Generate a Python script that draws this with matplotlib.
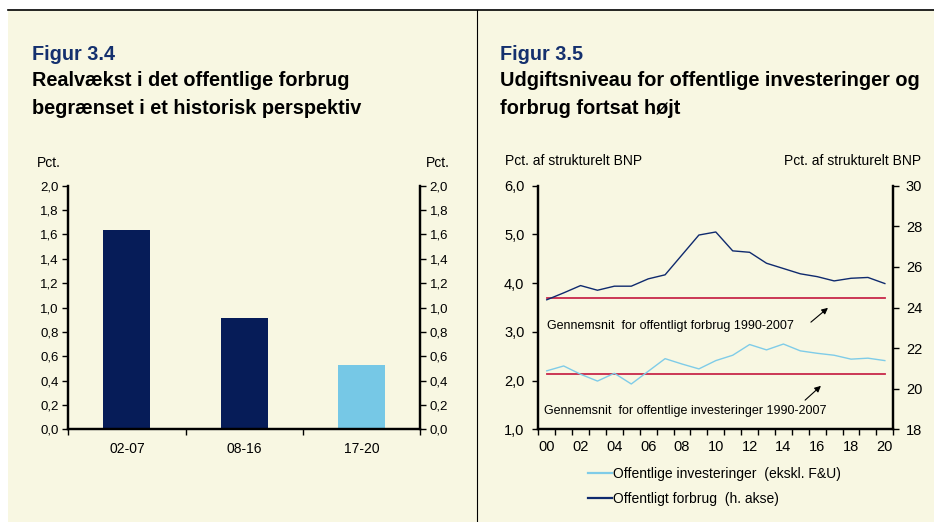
import numpy as np
import matplotlib
matplotlib.use("Agg")
import matplotlib.pyplot as plt
from matplotlib.patches import Rectangle
from matplotlib.lines import Line2D
from matplotlib.ticker import FuncFormatter, FixedLocator

plt.rcParams['font.family'] = ['Liberation Sans', 'DejaVu Sans']

# --- data, figur 3.4 ---
periods = ["02-07", "08-16", "17-20"]
growth = [1.64, 0.91, 0.53]
bar_colors = ["#061c58", "#061c58", "#76c8e6"]

# --- data, figur 3.5 ---
years = list(range(2000, 2021))
year_labels = ["00", "02", "04", "06", "08", "10", "12", "14", "16", "18", "20"]
investeringer = [2.20, 2.30, 2.13, 1.99, 2.15, 1.93, 2.19, 2.45, 2.34, 2.24, 2.41,
                 2.52, 2.74, 2.63, 2.75, 2.61, 2.56, 2.52, 2.44, 2.46, 2.41]
forbrug = [24.38, 24.72, 25.08, 24.85, 25.05, 25.05, 25.41, 25.61, 26.59, 27.57, 27.72,
           26.79, 26.72, 26.18, 25.92, 25.66, 25.52, 25.31, 25.44, 25.48, 25.18]
avg_invest = 2.14
avg_forbrug = 24.46

W, H = 934, 522
NAVY = "#0f2a6e"
LIGHT = "#7fcce8"
RED = "#c8284a"
CREAM = "#f8f7e2"

fig = plt.figure(figsize=(W / 100, H / 100), dpi=100)
fig.patch.set_facecolor("white")


def px(x, y):
    return x / W, 1 - y / H


# background and frame lines
fig.patches.append(Rectangle(px(8, 522), (W - 8) / W, 512 / H, transform=fig.transFigure,
                             facecolor=CREAM, edgecolor="none", zorder=-5))
fig.lines.append(Line2D([8 / W, 1], [1 - 10 / H] * 2, transform=fig.transFigure, color="black", lw=1.2))
fig.lines.append(Line2D([477 / W] * 2, [1 - 10 / H, 0], transform=fig.transFigure, color="black", lw=0.8))

comma1 = FuncFormatter(lambda v, p: f"{v:.1f}".replace(".", ","))
intfmt = FuncFormatter(lambda v, p: f"{v:.0f}")


def style_axis(ax):
    ax.set_facecolor("none")
    for s in ax.spines.values():
        s.set_linewidth(1.6)
    ax.spines['top'].set_visible(False)
    ax.tick_params(axis='both', direction='out', length=4, width=1, labelsize=9.5, pad=3)


TS = 14.3

# ---------------- Figur 3.4 ----------------
fig.text(32 / W, 1 - 54 / H, "Figur 3.4", color="#14306e", fontsize=TS, fontweight="bold", va="center")
fig.text(32 / W, 1 - 81 / H, "Realvækst i det offentlige forbrug", color="black", fontsize=TS,
         fontweight="bold", va="center")
fig.text(32 / W, 1 - 108 / H, "begrænset i et historisk perspektiv", color="black", fontsize=TS,
         fontweight="bold", va="center")
fig.text(37 / W, 1 - 163 / H, "Pct.", fontsize=10, va="center")
fig.text(450 / W, 1 - 163 / H, "Pct.", fontsize=10, va="center", ha="right")

ax1 = fig.add_axes([68.3 / W, 1 - 429.3 / H, 351.7 / W, 243.6 / H])
style_axis(ax1)
x = np.arange(len(periods))
ax1.bar(x, growth, width=0.4, color=bar_colors, zorder=2)
ax1.set_xlim(-0.5, 2.5)
ax1.set_ylim(0, 2.0)
ax1.set_yticks(np.arange(0, 2.01, 0.2))
ax1.yaxis.set_major_formatter(comma1)
ax1.xaxis.set_major_locator(FixedLocator([-0.5, 0.5, 1.5, 2.5]))
ax1.xaxis.set_major_formatter(FuncFormatter(lambda v, p: ""))
ax1.xaxis.set_minor_locator(FixedLocator(x))
ax1.set_xticklabels(periods, minor=True)
ax1.tick_params(axis='x', which='minor', length=0, labelsize=10, pad=9)
ax1r = ax1.twinx()
style_axis(ax1r)
ax1r.set_ylim(0, 2.0)
ax1r.set_yticks(np.arange(0, 2.01, 0.2))
ax1r.yaxis.set_major_formatter(comma1)

# ---------------- Figur 3.5 ----------------
fig.text(500 / W, 1 - 54 / H, "Figur 3.5", color="#14306e", fontsize=TS, fontweight="bold", va="center")
fig.text(500 / W, 1 - 81 / H, "Udgiftsniveau for offentlige investeringer og", color="black",
         fontsize=TS, fontweight="bold", va="center")
fig.text(500 / W, 1 - 108 / H, "forbrug fortsat højt", color="black", fontsize=TS,
         fontweight="bold", va="center")
fig.text(505 / W, 1 - 161 / H, "Pct. af strukturelt BNP", fontsize=10, va="center")
fig.text(921 / W, 1 - 161 / H, "Pct. af strukturelt BNP", fontsize=10, va="center", ha="right")

ax2 = fig.add_axes([538.3 / W, 1 - 429.3 / H, 355 / W, 243.6 / H])
style_axis(ax2)
ax2r = ax2.twinx()
style_axis(ax2r)

l1, = ax2.plot(years, investeringer, color=LIGHT, lw=1.0, zorder=3,
               label="Offentlige investeringer  (ekskl. F&U)")
ax2.plot([years[0], years[-1]], [avg_invest, avg_invest], color=RED, lw=1.3, zorder=2)
l2, = ax2r.plot(years, forbrug, color=NAVY, lw=1.0, zorder=3,
                label="Offentligt forbrug  (h. akse)")
ax2r.plot([years[0], years[-1]], [avg_forbrug, avg_forbrug], color=RED, lw=1.3, zorder=2)

ax2.set_xlim(1999.5, 2020.5)
ax2.set_ylim(1.0, 6.0)
ax2.set_yticks(np.arange(1.0, 6.01, 1.0))
ax2.yaxis.set_major_formatter(comma1)
ax2r.set_ylim(18, 30)
ax2r.set_yticks(np.arange(18, 31, 2))
ax2r.yaxis.set_major_formatter(intfmt)
ax2.xaxis.set_major_locator(FixedLocator(np.arange(1999.5, 2021, 1.0)))
ax2.xaxis.set_major_formatter(FuncFormatter(lambda v, p: ""))
ax2.xaxis.set_minor_locator(FixedLocator(years[::2]))
ax2.set_xticklabels(year_labels, minor=True)
ax2.tick_params(axis='x', which='minor', length=0, labelsize=10.5, pad=8)
ax2.tick_params(axis='y', labelsize=10.5, pad=6)
ax2r.tick_params(axis='y', labelsize=10.5, pad=5)

# annotations
ax2r.annotate("", xy=(2016.76, 24.07), xytext=(2015.5, 23.19),
              arrowprops=dict(arrowstyle="-|>", color="black", lw=0.8, mutation_scale=9))
ax2r.text(2000.0, 23.1, "Gennemsnit  for offentligt forbrug 1990-2007", fontsize=9, va="center")
ax2.annotate("", xy=(2016.34, 1.93), xytext=(2015.16, 1.56),
             arrowprops=dict(arrowstyle="-|>", color="black", lw=0.8, mutation_scale=9))
ax2.text(1999.84, 1.37, "Gennemsnit  for offentlige investeringer 1990-2007", fontsize=9, va="center")

fig.legend(handles=[l1, l2], loc="upper left", bbox_to_anchor=(588 / W, 1 - 467 / H),
           frameon=False, fontsize=10, handlelength=1.7, handletextpad=0.1,
           labelspacing=0.8, borderpad=0, borderaxespad=0)
for h in fig.legends[0].legend_handles:
    h.set_linewidth(1.6)

fig.savefig("out.png", dpi=100, facecolor=fig.get_facecolor())
